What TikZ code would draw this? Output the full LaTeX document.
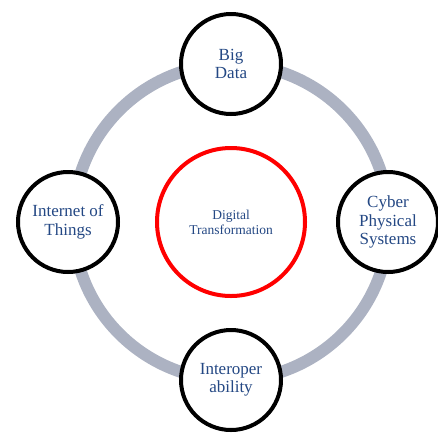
\documentclass[tikz,border=0pt]{standalone}
\usepackage{fontspec}
\setmainfont{Liberation Serif}
\usepackage{tikz}
\definecolor{ringgray}{RGB}{172,178,194}
\definecolor{textblue}{RGB}{36,72,132}
\tikzset{
  topic/.style={circle, draw=black, line width=4pt, fill=white, minimum size=100pt,
    inner sep=0pt, align=center, text=textblue, font=\fontsize{17}{18.5}\selectfont},
  core/.style={circle, draw=red, line width=4pt, fill=white, minimum size=148pt,
    inner sep=0pt, align=center, text=textblue, font=\fontsize{13.5}{15}\selectfont}
}

\begin{document}
\begin{tikzpicture}[x=1pt,y=1pt]
\useasboundingbox (0,0) rectangle (438,-432);
\coordinate (mid) at (231,-222);
\draw [ringgray, line width=12pt] (mid) circle (158);
\node (dt) [core] at (mid) {Digital\\Transformation};
\node (bd) [topic] at (231,-64) {Big\\Data};
\node (cps) [topic] at (388,-222) {Cyber\\Physical\\Systems};
\node (iop) [topic] at (231,-380) {Interoper\\ability};
\node (iot) [topic] at (68,-222) {Internet of\\Things};
\end{tikzpicture}
\end{document}
